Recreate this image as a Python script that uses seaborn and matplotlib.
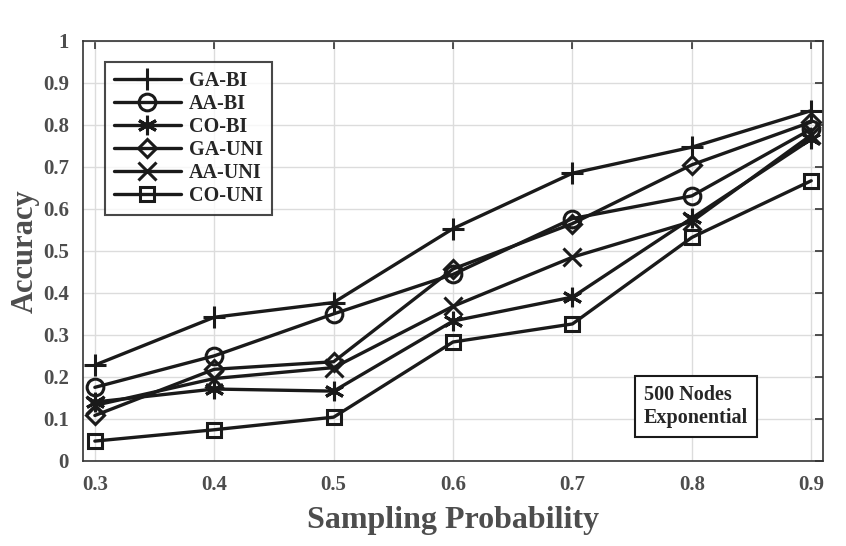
import pandas as pd
import matplotlib
matplotlib.use('Agg')
import matplotlib.pyplot as plt
import seaborn as sns

# values
prob = [0.3, 0.4, 0.5, 0.6, 0.7, 0.8, 0.9]
ga_bi = [0.228, 0.342, 0.377, 0.553, 0.685, 0.747, 0.834]
aa_bi = [0.175, 0.250, 0.350, 0.444, 0.577, 0.631, 0.790]
co_bi = [0.140, 0.171, 0.166, 0.333, 0.390, 0.578, 0.766]
ga_uni = [0.108, 0.218, 0.236, 0.457, 0.565, 0.705, 0.807]
aa_uni = [0.132, 0.196, 0.222, 0.368, 0.485, 0.570, 0.776]
co_uni = [0.047, 0.074, 0.104, 0.283, 0.326, 0.532, 0.667]

series = ['GA-BI', 'AA-BI', 'CO-BI', 'GA-UNI', 'AA-UNI', 'CO-UNI']
values = [ga_bi, aa_bi, co_bi, ga_uni, aa_uni, co_uni]
markers = ['+', 'o', (6, 2, 0), 'D', 'x', 's']
msizes = [16, 12, 14, 9, 13, 10]

sns.set_style('white')
plt.rcParams['font.family'] = ['Liberation Serif', 'DejaVu Serif']
plt.rcParams['font.weight'] = 'bold'

fig = plt.figure(figsize=(8.46, 5.46), dpi=100)
ax = fig.add_axes([0.098, 0.156, 0.875, 0.769])

for name, vals, mk, ms in zip(series, values, markers, msizes):
    df = pd.DataFrame({'prob': prob, 'acc': vals})
    sns.lineplot(data=df, x='prob', y='acc', ax=ax, color='#1a1a1a', lw=2.4,
                 marker=mk, markersize=ms, markeredgewidth=2.2,
                 fillstyle='none', markeredgecolor='#1a1a1a', label=name)

ax.set_xlim(0.29, 0.91)
ax.set_ylim(0, 1)
ax.set_xticks(prob)
ax.set_xticklabels([f'{p:.1f}' for p in prob])
ax.set_yticks([i / 10 for i in range(11)])
ax.set_yticklabels(['0'] + [f'{i / 10:.1f}' for i in range(1, 10)] + ['1'])
ax.grid(True, color='#dcdcdc', lw=1)
ax.tick_params(direction='in', top=True, right=True, length=6, width=1.2,
               labelsize=15, labelcolor='#4d4d4d', color='#333333', pad=10)
for s in ax.spines.values():
    s.set_color('#333333')
    s.set_linewidth(1.2)

ax.set_xlabel('Sampling Probability', fontsize=23, fontweight='bold', color='#4d4d4d', labelpad=8)
ax.set_ylabel('Accuracy', fontsize=22, fontweight='bold', color='#4d4d4d', labelpad=2)

leg = ax.legend(loc='upper left', bbox_to_anchor=(0.03, 0.95), fontsize=14.5,
                handlelength=3.3, frameon=True, fancybox=False, edgecolor='#1a1a1a',
                borderpad=0.45, labelspacing=0.15, handletextpad=0.4, borderaxespad=0)
leg.get_frame().set_linewidth(1.5)
for t in leg.get_texts():
    t.set_fontweight('bold')

ax.text(0.76, 0.129, '500 Nodes\nExponential', fontsize=14.5, fontweight='bold',
        ha='left', va='center', linespacing=1.2,
        bbox=dict(boxstyle='square,pad=0.45', fc='white', ec='#1a1a1a', lw=1.5))

fig.savefig('out.png', dpi=100)
